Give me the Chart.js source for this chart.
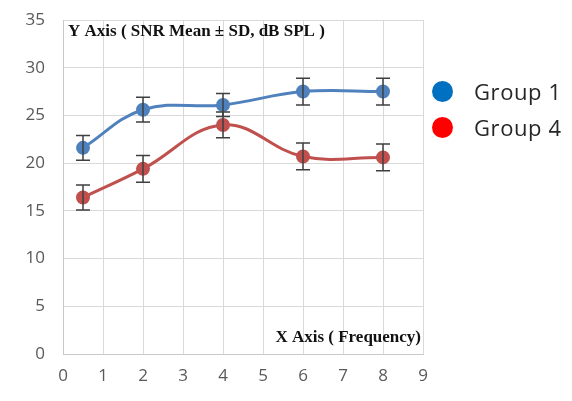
<!DOCTYPE html>
<html>
<head>
<meta charset="utf-8">
<script src="https://cdn.jsdelivr.net/npm/chart.js@4.4.1/dist/chart.umd.min.js"></script>
<style>
  html, body { margin: 0; padding: 0; background: #fff; }
  #wrap { position: relative; width: 572px; height: 401px; }
  #legend { position: absolute; left: 432px; top: 73px; font-family: "Open Sans", sans-serif; font-size: 22px; color: #262626; letter-spacing: 0.6px; }
  #legend div { display: flex; align-items: center; height: 36px; }
  #legend span.dot { display: inline-block; width: 21px; height: 21px; border-radius: 50%; margin-right: 21px; }
</style>
</head>
<body>
<div id="wrap">
  <canvas id="c" width="572" height="401"></canvas>
  <div id="legend"></div>
</div>
<script>
// Frequencies (x) and SNR mean / SD values per group
const frequencies = [0.5, 2, 4, 6, 8];
const group1Mean = [21.6, 25.6, 26.1, 27.5, 27.5];
const group1SD   = [1.3, 1.3, 1.2, 1.4, 1.4];
const group4Mean = [16.4, 19.4, 24.0, 20.7, 20.6];
const group4SD   = [1.3, 1.4, 1.35, 1.4, 1.4];
const seriesNames = ['Group 1', 'Group 4'];
const legendColors = ['#0070C0', '#FF0000'];
const xTicks = [0, 1, 2, 3, 4, 5, 6, 7, 8, 9];
const yTicks = [0, 5, 10, 15, 20, 25, 30, 35];
const yTitle = 'Y Axis ( SNR Mean \u00B1 SD, dB SPL )';
const xTitle = 'X Axis ( Frequency)';

const toPoints = (xs, ys, sd) => xs.map((x, i) => ({ x: x, y: ys[i], sd: sd[i] }));

// Error bars drawn through the chart's scales
const errorBars = {
  id: 'errorBars',
  afterDatasetsDraw(chart) {
    const { ctx, scales: { x, y } } = chart;
    ctx.save();
    ctx.strokeStyle = '#3f3f3f';
    ctx.lineWidth = 1.5;
    chart.data.datasets.forEach(ds => {
      ds.data.forEach(p => {
        const px = x.getPixelForValue(p.x);
        const top = y.getPixelForValue(p.y + p.sd);
        const bot = y.getPixelForValue(p.y - p.sd);
        ctx.beginPath();
        ctx.moveTo(px, top); ctx.lineTo(px, bot);
        ctx.moveTo(px - 7, top); ctx.lineTo(px + 7, top);
        ctx.moveTo(px - 7, bot); ctx.lineTo(px + 7, bot);
        ctx.stroke();
      });
    });
    ctx.restore();
  }
};

// Axis captions drawn inside the plot area
const captions = {
  id: 'captions',
  afterDraw(chart) {
    const { ctx, chartArea: a } = chart;
    ctx.save();
    ctx.fillStyle = '#111';
    ctx.font = 'bold 17px "Liberation Serif", serif';
    ctx.textBaseline = 'middle';
    ctx.textAlign = 'left';
    ctx.fillText(yTitle, a.left + 5, a.top + 12);
    ctx.textAlign = 'right';
    ctx.fillText(xTitle, a.right - 2, a.bottom - 16);
    ctx.restore();
  }
};

const ctx = document.getElementById('c').getContext('2d');
new Chart(ctx, {
  type: 'scatter',
  data: {
    datasets: [
      {
        label: seriesNames[0],
        data: toPoints(frequencies, group1Mean, group1SD),
        borderColor: '#4F81BD', backgroundColor: '#4F81BD',
        showLine: true, tension: 0.4, borderWidth: 3,
        pointRadius: 5.5, pointHoverRadius: 5.5
      },
      {
        label: seriesNames[1],
        data: toPoints(frequencies, group4Mean, group4SD),
        borderColor: '#C0504D', backgroundColor: '#C0504D',
        showLine: true, tension: 0.4, borderWidth: 3,
        pointRadius: 5.5, pointHoverRadius: 5.5
      }
    ]
  },
  options: {
    responsive: false,
    animation: false,
    layout: { padding: { left: 0, right: 149, top: 20, bottom: 0 } },
    plugins: { legend: { display: false }, tooltip: { enabled: false } },
    scales: {
      x: {
        type: 'linear', min: 0, max: 9,
        afterBuildTicks: s => { s.ticks = xTicks.map(v => ({ value: v })); },
        ticks: { color: '#595959', font: { family: '"Open Sans", sans-serif', size: 17 }, padding: 12 },
        grid: { color: '#d9d9d9', drawTicks: false },
        border: { color: '#c8c8c8' },
        afterFit: s => { s.height = 47; }
      },
      y: {
        min: 0, max: 35,
        afterBuildTicks: s => { s.ticks = yTicks.map(v => ({ value: v })); },
        ticks: { color: '#595959', font: { family: '"Open Sans", sans-serif', size: 17 }, padding: 18 },
        grid: { color: '#d9d9d9', drawTicks: false },
        border: { color: '#c8c8c8' },
        afterFit: s => { s.width = 63; s.paddingTop = 10; s.paddingBottom = 10; }
      }
    }
  },
  plugins: [errorBars, captions]
});

// Legend
const legend = document.getElementById('legend');
seriesNames.forEach((name, i) => {
  const row = document.createElement('div');
  const dot = document.createElement('span');
  dot.className = 'dot';
  dot.style.background = legendColors[i];
  row.appendChild(dot);
  row.appendChild(document.createTextNode(name));
  legend.appendChild(row);
});
</script>
</body>
</html>
